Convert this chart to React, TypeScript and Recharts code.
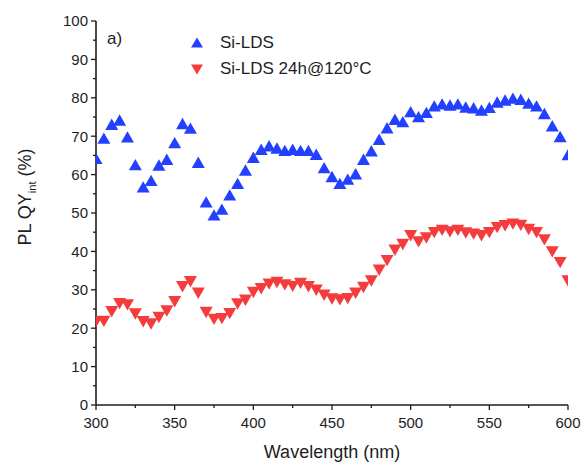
import React from "react";
import { ScatterChart, Scatter, XAxis, YAxis } from "recharts";

const wavelengths = [
  300, 305, 310, 315, 320, 325, 330, 335, 340, 345,
  350, 355, 360, 365, 370, 375, 380, 385, 390, 395,
  400, 405, 410, 415, 420, 425, 430, 435, 440, 445,
  450, 455, 460, 465, 470, 475, 480, 485, 490, 495,
  500, 505, 510, 515, 520, 525, 530, 535, 540, 545,
  550, 555, 560, 565, 570, 575, 580, 585, 590, 595,
  600,
];

const siLds = [
  64, 69.3, 72.9, 74, 69.6, 62.4, 56.6, 58.3, 62.3, 63.8,
  68.1, 73.1, 71.9, 63, 52.7, 49.3, 50.8, 54.5, 57.5, 61,
  64.3, 66.4, 67.3, 66.7, 66.1, 66.4, 66.1, 66.1, 65.1, 61.6,
  59.3, 57.5, 58.6, 60, 63.8, 66, 69, 72, 74.2, 73.6,
  76.2, 74.9, 76, 77.7, 78.2, 77.9, 78.2, 77.4, 77.2, 76.6,
  77.3, 78.7, 79.2, 79.7, 79.4, 78.4, 77.7, 75.7, 72.5, 69.7,
  65,
];

const siLdsAged = [
  21.9, 22, 24.5, 26.6, 26.3, 23.9, 21.9, 21.3, 23, 24.7,
  27.1, 31, 32.3, 29.3, 24.3, 22.5, 22.7, 24, 26.5, 27.5,
  29.5, 30.5, 31.7, 32.1, 31.5, 31.1, 31.9, 31, 30.1, 28.8,
  27.8, 27.6, 27.9, 29.3, 30.8, 32.5, 35.3, 37.8, 40.5, 42,
  44.3, 42.7, 43.7, 45.1, 45.7, 45.3, 45.7, 45, 44.7, 44.3,
  45.1, 46.4, 46.9, 47.3, 47, 45.9, 45.1, 43.2, 40.1, 37.3,
  32.5,
];

const xTicks = [300, 325, 350, 375, 400, 425, 450, 475, 500, 525, 550, 575, 600];
const yTicks = [0, 5, 10, 15, 20, 25, 30, 35, 40, 45, 50, 55, 60, 65, 70, 75, 80, 85, 90, 95, 100];

const seriesNames = ["Si-LDS", "Si-LDS 24h@120°C"];
const panelLabel = "a)";

const BLUE = "#2440ff";
const RED = "#f53c3c";
const INK = "#1e1e1e";
const FONT = "'Liberation Sans', Arial, sans-serif";

const dataA = wavelengths.map((w, i) => ({ x: w, y: siLds[i] }));
const dataB = wavelengths.map((w, i) => ({ x: w, y: siLdsAged[i] }));

const UpTri = (props: any) => {
  const { cx, cy } = props;
  const s = 6.5;
  return (
    <polygon
      points={`${cx},${cy - s} ${cx - s},${cy + s * 0.75} ${cx + s},${cy + s * 0.75}`}
      fill={BLUE}
    />
  );
};

const DownTri = (props: any) => {
  const { cx, cy } = props;
  const s = 6.5;
  return (
    <polygon
      points={`${cx},${cy + s} ${cx - s},${cy - s * 0.75} ${cx + s},${cy - s * 0.75}`}
      fill={RED}
    />
  );
};

const YTick = (props: any) => {
  const { x, y, payload } = props;
  const v = payload.value;
  const major = v % 10 === 0;
  return (
    <g>
      <line x1={x - (major ? 5 : 3)} x2={x} y1={y} y2={y} stroke={INK} strokeWidth={1.3} />
      {major && (
        <text x={x - 8} y={y} dy="0.36em" textAnchor="end" fontSize={15} fill={INK} fontFamily={FONT}>
          {v}
        </text>
      )}
    </g>
  );
};

const XTick = (props: any) => {
  const { x, y, payload } = props;
  const v = payload.value;
  const major = v % 50 === 0;
  return (
    <g>
      <line x1={x} x2={x} y1={y} y2={y + (major ? 5 : 3)} stroke={INK} strokeWidth={1.3} />
      {major && (
        <text x={x} y={y + 23} textAnchor="middle" fontSize={15} fill={INK} fontFamily={FONT}>
          {v}
        </text>
      )}
    </g>
  );
};

const YLabel = () => (
  <text
    transform="translate(31,197) rotate(-90)"
    textAnchor="middle"
    fontSize={18}
    fill={INK}
    fontFamily={FONT}
  >
    <tspan>PL QY</tspan>
    <tspan fontSize={11} dy={5}>int</tspan>
    <tspan dy={-5}> (%)</tspan>
  </text>
);

const XLabel = () => (
  <text x={332} y={458} textAnchor="middle" fontSize={18} fill={INK} fontFamily={FONT}>
    Wavelength (nm)
  </text>
);

export default function App() {
  return (
    <div style={{ position: "absolute", left: 0, top: 0, width: 581, height: 463, background: "#fff" }}>
      <ScatterChart
        width={581}
        height={463}
        margin={{ top: 21, right: 13, bottom: 0, left: 0 }}
      >
        <XAxis
          type="number"
          dataKey="x"
          domain={[300, 600]}
          ticks={xTicks}
          interval={0}
          allowDataOverflow
          height={58}
          tickSize={0}
          tickMargin={0}
          tickLine={false}
          tick={<XTick />}
          axisLine={{ stroke: INK, strokeWidth: 1.6 }}
          label={<XLabel />}
        />
        <XAxis
          xAxisId="top"
          orientation="top"
          type="number"
          domain={[300, 600]}
          height={0}
          tick={false}
          tickLine={false}
          axisLine={{ stroke: INK, strokeWidth: 1.6 }}
        />
        <YAxis
          type="number"
          dataKey="y"
          domain={[0, 100]}
          ticks={yTicks}
          interval={0}
          allowDataOverflow
          width={96}
          tickSize={0}
          tickMargin={0}
          tickLine={false}
          tick={<YTick />}
          axisLine={{ stroke: INK, strokeWidth: 1.6 }}
          label={<YLabel />}
        />
        <YAxis
          yAxisId="right"
          orientation="right"
          type="number"
          domain={[0, 100]}
          width={0}
          tick={false}
          tickLine={false}
          axisLine={{ stroke: INK, strokeWidth: 1.6 }}
        />
        <Scatter name={seriesNames[0]} data={dataA} shape={<UpTri />} isAnimationActive={false} />
        <Scatter name={seriesNames[1]} data={dataB} shape={<DownTri />} isAnimationActive={false} />
      </ScatterChart>
      <div
        style={{
          position: "absolute",
          left: 107,
          top: 29,
          fontFamily: FONT,
          fontSize: 17,
          color: INK,
        }}
      >
        {panelLabel}
      </div>
      <div style={{ position: "absolute", left: 189, top: 31, fontFamily: FONT, fontSize: 17, color: INK }}>
        <div style={{ display: "flex", alignItems: "center", height: 24 }}>
          <svg width={16} height={14}>
            <polygon points="8,1.5 2,11.5 14,11.5" fill={BLUE} />
          </svg>
          <span style={{ marginLeft: 15 }}>{seriesNames[0]}</span>
        </div>
        <div style={{ display: "flex", alignItems: "center", height: 24, marginTop: 2 }}>
          <svg width={16} height={14}>
            <polygon points="8,12.5 2,2.5 14,2.5" fill={RED} />
          </svg>
          <span style={{ marginLeft: 15 }}>{seriesNames[1]}</span>
        </div>
      </div>
    </div>
  );
}
